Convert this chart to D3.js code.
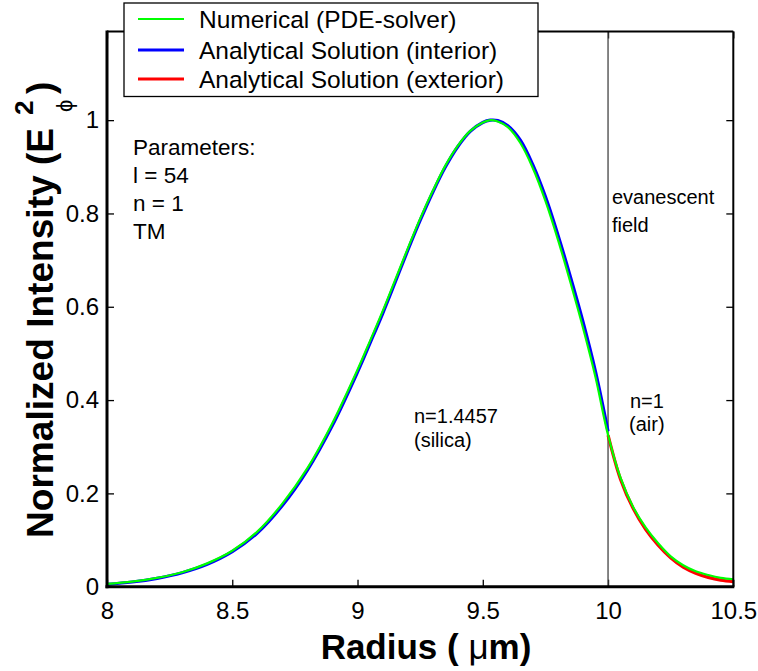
<!DOCTYPE html>
<html>
<head>
<meta charset="utf-8">
<script src="https://cdn.jsdelivr.net/npm/d3@7"></script>
<style>
  html, body { margin: 0; padding: 0; background: #fff; }
  svg { display: block; }
  text { font-family: "Liberation Sans", Arial, Helvetica, sans-serif; fill: #000; }
</style>
</head>
<body>
<svg id="chart" width="758" height="671"></svg>
<script>
// ---- data ----
const xTicks = [8, 8.5, 9, 9.5, 10, 10.5];
const xTickLabels = ["8", "8.5", "9", "9.5", "10", "10.5"];
const yTicks = [0, 0.2, 0.4, 0.6, 0.8, 1];
const yTickLabels = ["0", "0.2", "0.4", "0.6", "0.8", "1"];

const radiusNumerical = [8.00, 8.10, 8.20, 8.30, 8.40, 8.50, 8.60, 8.70, 8.80, 8.90, 9.00, 9.05, 9.10, 9.15, 9.20, 9.25, 9.30, 9.35, 9.40, 9.45, 9.50, 9.53, 9.56, 9.60, 9.65, 9.70, 9.75, 9.80, 9.85, 9.90, 9.95, 10.00, 10.05, 10.10, 10.15, 10.20, 10.25, 10.30, 10.35, 10.40, 10.45, 10.50];
const numerical = [0.006, 0.011, 0.019, 0.031, 0.050, 0.077, 0.118, 0.178, 0.254, 0.351, 0.465, 0.527, 0.590, 0.657, 0.724, 0.789, 0.848, 0.902, 0.945, 0.977, 0.995, 1.000, 0.997, 0.985, 0.951, 0.897, 0.827, 0.744, 0.652, 0.555, 0.449, 0.325, 0.233, 0.171, 0.127, 0.093, 0.065, 0.046, 0.033, 0.025, 0.019, 0.016];

const radiusInterior = [8.00, 8.10, 8.20, 8.30, 8.40, 8.50, 8.60, 8.70, 8.80, 8.90, 9.00, 9.05, 9.10, 9.15, 9.20, 9.25, 9.30, 9.35, 9.40, 9.45, 9.50, 9.53, 9.56, 9.60, 9.65, 9.70, 9.75, 9.80, 9.85, 9.90, 9.95, 10.00];
const interior = [0.005, 0.010, 0.018, 0.030, 0.048, 0.075, 0.115, 0.174, 0.250, 0.346, 0.460, 0.522, 0.585, 0.652, 0.720, 0.785, 0.845, 0.899, 0.943, 0.976, 0.995, 1.000, 0.999, 0.988, 0.957, 0.904, 0.836, 0.754, 0.664, 0.568, 0.461, 0.333];

const radiusExterior = [10.00, 10.05, 10.10, 10.15, 10.20, 10.25, 10.30, 10.35, 10.40, 10.45, 10.50];
const exterior = [0.325, 0.230, 0.168, 0.123, 0.089, 0.062, 0.042, 0.029, 0.020, 0.014, 0.011];

const legendLabels = ["Numerical (PDE-solver)", "Analytical Solution (interior)", "Analytical Solution (exterior)"];
const legendColors = ["#00ff00", "#0000ff", "#ff0000"];
const paramLines = ["Parameters:", "l = 54", "n = 1", "TM"];
const boundaryRadius = 10;

// ---- layout ----
const svg = d3.select("#chart");
const L = 107, R = 733.3, T = 31.5, B = 586.7;
const x = d3.scaleLinear().domain([8, 10.5]).range([L, R]);
const y = d3.scaleLinear().domain([0, 1.19]).range([B, T]);

// Axes (ticks inward)
const tickFont = "24px";
const axB = svg.append("g").attr("transform", `translate(0,${B})`)
  .call(d3.axisBottom(x).tickValues(xTicks).tickFormat((d, i) => xTickLabels[i]).tickSizeInner(-7).tickSizeOuter(0).tickPadding(15));
const axT = svg.append("g").attr("transform", `translate(0,${T})`)
  .call(d3.axisTop(x).tickValues(xTicks).tickFormat("").tickSizeInner(-7).tickSizeOuter(0));
const axL = svg.append("g").attr("transform", `translate(${L},0)`)
  .call(d3.axisLeft(y).tickValues(yTicks).tickFormat((d, i) => yTickLabels[i]).tickSizeInner(-7).tickSizeOuter(0).tickPadding(8));
const axR = svg.append("g").attr("transform", `translate(${R},0)`)
  .call(d3.axisRight(y).tickValues(yTicks).tickFormat("").tickSizeInner(-7).tickSizeOuter(0));
[axB, axT, axL, axR].forEach(a => {
  a.select(".domain").remove();
  a.selectAll(".tick line").attr("stroke", "#000").attr("stroke-width", 1.3);
  a.selectAll(".tick text").attr("font-size", tickFont).attr("fill", "#000")
    .attr("font-family", '"Liberation Sans", Arial, sans-serif');
});
axB.selectAll(".tick text").attr("dy", "0.71em");

// Boundary line at r = 10
svg.append("line")
  .attr("x1", x(boundaryRadius)).attr("x2", x(boundaryRadius))
  .attr("y1", T).attr("y2", B)
  .attr("stroke", "#444").attr("stroke-width", 1.3);

// Curves
const line = d3.line().x(d => x(d[0])).y(d => y(d[1])).curve(d3.curveCatmullRom.alpha(0.5));
const intPts = radiusInterior.map((r, i) => [r, interior[i]]);
const extPts = radiusExterior.map((r, i) => [r, exterior[i]]);
const numPts = radiusNumerical.map((r, i) => [r, numerical[i]]);
svg.append("path").attr("d", line(intPts)).attr("fill", "none").attr("stroke", legendColors[1]).attr("stroke-width", 3.2);
svg.append("path").attr("d", line(extPts)).attr("fill", "none").attr("stroke", legendColors[2]).attr("stroke-width", 3.2);
svg.append("path").attr("d", line(numPts)).attr("fill", "none").attr("stroke", legendColors[0]).attr("stroke-width", 2.2);

// Frame
svg.append("line").attr("x1", L).attr("x2", R).attr("y1", T).attr("y2", T).attr("stroke", "#000").attr("stroke-width", 2);
svg.append("line").attr("x1", R).attr("x2", R).attr("y1", T).attr("y2", B).attr("stroke", "#000").attr("stroke-width", 2);
svg.append("line").attr("x1", L).attr("x2", L).attr("y1", T - 1).attr("y2", B + 1.5).attr("stroke", "#000").attr("stroke-width", 3);
svg.append("line").attr("x1", L - 1.5).attr("x2", R + 1).attr("y1", B).attr("y2", B).attr("stroke", "#000").attr("stroke-width", 3);

// Annotations
const ann = svg.append("g");
paramLines.forEach((t, i) => {
  ann.append("text").attr("x", 133).attr("y", 155 + i * 28).attr("font-size", "22.5px").text(t);
});
ann.append("text").attr("x", 612).attr("y", 204).attr("font-size", "20px").text("evanescent");
ann.append("text").attr("x", 612).attr("y", 232).attr("font-size", "20px").text("field");
ann.append("text").attr("x", 414).attr("y", 423).attr("font-size", "20px").text("n=1.4457");
ann.append("text").attr("x", 414).attr("y", 447).attr("font-size", "20px").text("(silica)");
ann.append("text").attr("x", 630).attr("y", 408).attr("font-size", "20px").text("n=1");
ann.append("text").attr("x", 629).attr("y", 431).attr("font-size", "20px").text("(air)");

// X axis title
const xt = svg.append("text").attr("x", 426).attr("y", 659).attr("text-anchor", "middle")
  .attr("font-size", "35px").attr("font-weight", "bold");
xt.append("tspan").text("Radius ( ");
xt.append("tspan").attr("font-weight", "normal").text("μ");
xt.append("tspan").text("m)");

// Y axis title (rotated)
const yt = svg.append("g").attr("transform", "translate(53,0) rotate(-90)");
yt.append("text").attr("x", -538).attr("y", 0).attr("font-size", "37px").attr("font-weight", "bold")
  .attr("textLength", 410).attr("lengthAdjust", "spacingAndGlyphs")
  .text("Normalized Intensity (E");
yt.append("text").attr("x", -115).attr("y", -20).attr("font-size", "26px").attr("font-weight", "bold").text("2");
yt.append("text").attr("x", -112).attr("y", 19).attr("font-size", "22px").attr("font-family", '"DejaVu Sans", sans-serif').text("ϕ");
yt.append("text").attr("x", -94).attr("y", 0).attr("font-size", "37px").attr("font-weight", "bold").text(")");

// Legend
const lg = svg.append("g");
lg.append("rect").attr("x", 124).attr("y", 3).attr("width", 414).attr("height", 93.5)
  .attr("fill", "#fff").attr("stroke", "#000").attr("stroke-width", 1.3);
const legendY = [19, 50, 79];
const legendW = [2, 3, 3];
legendLabels.forEach((lab, i) => {
  lg.append("line").attr("x1", 138).attr("x2", 184).attr("y1", legendY[i]).attr("y2", legendY[i])
    .attr("stroke", legendColors[i]).attr("stroke-width", legendW[i]);
  lg.append("text").attr("x", 199).attr("y", legendY[i] + 8.5).attr("font-size", "24.5px").text(lab);
});
</script>
</body>
</html>
